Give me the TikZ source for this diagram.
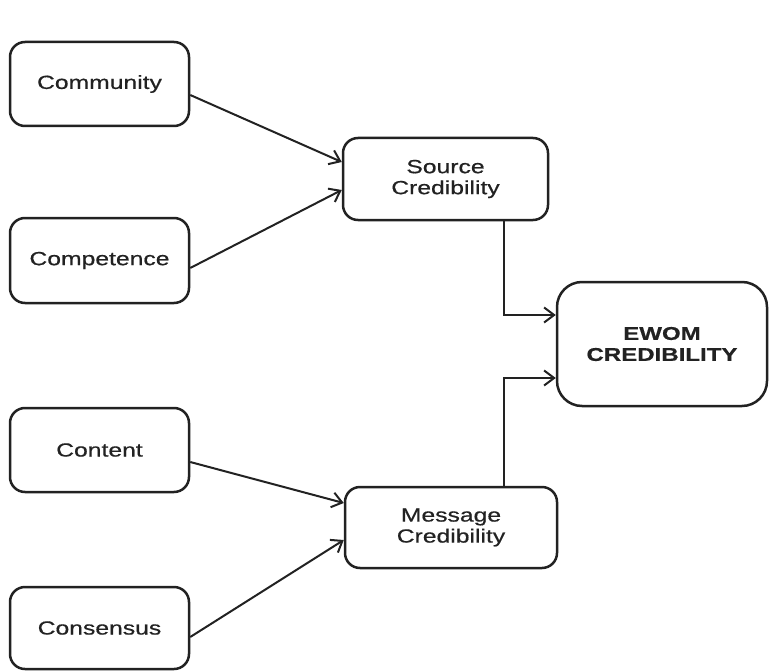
\documentclass[tikz,border=0pt]{standalone}
\usepackage{fontspec}
\newfontfamily\lab[FakeStretch=1.3,FakeBold=0.6]{Liberation Sans}
\usetikzlibrary{arrows.meta}
\definecolor{ink}{HTML}{222222}
\begin{document}
\begin{tikzpicture}[x=1pt,y=-1pt,
  box/.style={draw=ink,line width=2.5pt,rounded corners=15pt,align=center,
    font=\lab\fontsize{19}{21}\selectfont,text=ink,inner sep=0pt},
  small/.style={box,minimum width=179pt,minimum height=84pt},
  mid/.style={box,minimum width=205pt,minimum height=82pt},
  conn/.style={draw=ink,line width=2pt,-{Straight Barb[length=10pt,width=15pt,line width=2pt]}}]
\useasboundingbox (0,0) rectangle (770,671);
\node[small] (comm) at (99.5,84) {Community};
\node[small,minimum height=85pt] (comp) at (99.5,260.5) {Competence};
\node[small] (cont) at (99.5,450) {Content};
\node[small,minimum height=82pt] (cons) at (99.5,628) {Consensus};
\node[mid] (src) at (445.5,179) {Source\\Credibility};
\node[mid,minimum width=212pt,minimum height=81pt] (msg) at (451,527.5) {Message\\Credibility};
\node[box,rounded corners=25pt,minimum width=210pt,minimum height=124pt,font=\lab\bfseries\fontsize{18.5}{21}\selectfont] (ew) at (662,344) {EWOM\\CREDIBILITY};
\draw[conn] ([yshift=-11pt]comm.east) -- ([yshift=17pt]src.west);
\draw[conn] ([yshift=-7.5pt]comp.east) -- ([yshift=-11pt]src.west);
\draw[conn] ([yshift=-12pt]cont.east) -- ([yshift=24.5pt]msg.west);
\draw[conn] ([yshift=-9pt]cons.east) -- ([yshift=-12.5pt]msg.west);
\draw[conn] ([xshift=58.5pt]src.south) |- ([yshift=29pt]ew.west);
\draw[conn] ([xshift=53pt]msg.north) |- ([yshift=-34pt]ew.west);
\end{tikzpicture}
\end{document}
